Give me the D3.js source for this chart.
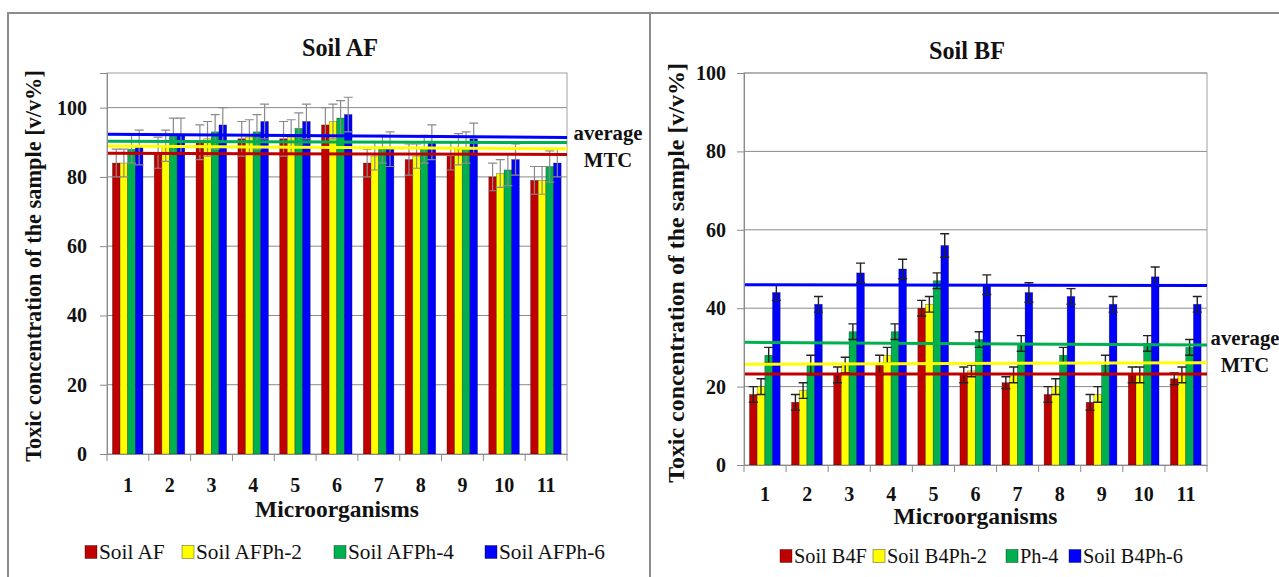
<!DOCTYPE html>
<html>
<head>
<meta charset="utf-8">
<script src="https://cdn.jsdelivr.net/npm/d3@7"></script>
<style>
  body { margin: 0; background: #fff; }
  text { font-family: "Liberation Serif", "DejaVu Serif", serif; fill: #111; }
</style>
</head>
<body>
<div id="chart"></div>
<script>
// data
var categories = ["1", "2", "3", "4", "5", "6", "7", "8", "9", "10", "11"];
var colors = ["#c00000", "#ffff00", "#00b050", "#0000ff"];
var yTicksAF = [0, 20, 40, 60, 80, 100];
var yTicksBF = [0, 20, 40, 60, 80, 100];

var afNames = ["Soil AF", "Soil AFPh-2", "Soil AFPh-4", "Soil AFPh-6"];
var afSoil = [84, 87, 90, 91, 91, 95, 84, 85, 86, 80, 79];
var afPh2 = [84, 89, 91, 91.5, 91.5, 96, 86, 86, 88, 81, 79];
var afPh4 = [88, 92, 93, 93, 94, 97, 88, 88, 88.5, 82, 83];
var afPh6 = [88.5, 92, 95, 96, 96, 98, 88, 90, 91, 85, 84];
var afSoilErr = [4, 4.5, 5, 5, 5, 5, 4, 4.5, 4, 4, 4];
var afPh2Err = [4, 4.5, 5, 5, 5, 5, 4, 3.5, 4.5, 4, 4];
var afPh4Err = [4, 5, 5, 5, 4.5, 5, 4, 4, 4.5, 4.5, 4.5];
var afPh6Err = [5, 5, 5, 5, 5, 5, 5, 5, 4.5, 4.5, 4];
var afAvgStart = [86.8, 88.9, 90.3, 92.3];
var afAvgEnd = [86.5, 88.1, 89.9, 91.4];

var bfNames = ["Soil B4F", "Soil B4Ph-2", "Ph-4", "Soil B4Ph-6"];
var bfSoil = [18, 16, 23, 25.5, 40, 23, 21, 18, 16, 23, 22];
var bfPh2 = [20, 19, 25.5, 28, 41, 24, 23, 20, 18, 23, 23];
var bfPh4 = [28, 25.5, 34, 34, 47, 32, 31, 28, 25.5, 31, 30];
var bfPh6 = [44, 41, 49, 50, 56, 46, 44, 43, 41, 48, 41];
var bfSoilErr = [2, 2, 2, 2.5, 2, 2, 1.5, 2, 2, 2, 1.5];
var bfPh2Err = [2, 2, 2, 2, 2, 1.5, 2, 2, 2, 2, 2];
var bfPh4Err = [2, 2.5, 2, 2, 2, 2, 2, 2, 2.5, 2, 2];
var bfPh6Err = [2, 2, 2.5, 2.5, 3, 2.5, 2.5, 2, 2, 2.5, 2];
var bfAvgStart = [23.2, 25.7, 31.3, 46];
var bfAvgEnd = [23.2, 26.1, 30.6, 45.8];

var FONT = '"Liberation Serif", "DejaVu Serif", serif';

var svg = d3.select('#chart').append('svg')
  .attr('width', 1279).attr('height', 577);

// outer frame
svg.append('path')
  .attr('d', 'M8,577V13H1279M650,13V577')
  .attr('fill', 'none').attr('stroke', '#8c8c8c').attr('stroke-width', 2);

// scale a font so that a text gets a given width
function fitSize(sample, width, bold) {
  var t = svg.append('text').attr('font-size', 20).attr('font-family', FONT)
    .attr('font-weight', bold ? 'bold' : 'normal').text(sample);
  var w = t.node().getComputedTextLength();
  t.remove();
  return 20 * width / w;
}

function drawChart(cfg) {
  var g = svg.append('g');
  var x = d3.scaleBand().domain(categories).range([cfg.x0, cfg.x1]);
  var bw = x.bandwidth();
  var xs = d3.scaleBand().domain([0, 1, 2, 3]).range([bw * 0.13, bw * 0.86]);
  var y = d3.scaleLinear().domain([0, cfg.max]).range([cfg.y0, cfg.y1]);

  var tickSize = fitSize('100', 30, true);
  var legSize = fitSize(cfg.names[3], cfg.legendW, false);

  // grid
  g.selectAll('.grid').data(cfg.ticks.filter(function (t) { return t > 0; }))
    .enter().append('line')
    .attr('x1', cfg.x0).attr('x2', cfg.x1)
    .attr('y1', function (d) { return y(d); }).attr('y2', function (d) { return y(d); })
    .attr('stroke', '#8a8a8a').attr('stroke-width', 1);
  g.append('rect')
    .attr('x', cfg.x0).attr('y', cfg.y1)
    .attr('width', cfg.x1 - cfg.x0).attr('height', cfg.y0 - cfg.y1)
    .attr('fill', 'none').attr('stroke', '#a0a0a0');

  // bars
  cfg.series.forEach(function (vals, s) {
    g.selectAll('.b' + s).data(vals).enter().append('rect')
      .attr('x', function (d, i) { return x(categories[i]) + xs(s); })
      .attr('width', xs.bandwidth())
      .attr('y', function (d) { return y(d); })
      .attr('height', function (d) { return cfg.y0 - y(d); })
      .attr('fill', colors[s])
      .attr('stroke', 'rgba(0,0,0,0.45)').attr('stroke-width', 0.6);
  });

  // error bars
  cfg.series.forEach(function (vals, s) {
    var errs = cfg.errors[s];
    vals.forEach(function (v, i) {
      var cx = x(categories[i]) + xs(s) + xs.bandwidth() / 2;
      var top = y(v + errs[i]), bot = y(v - errs[i]);
      g.append('path')
        .attr('d', 'M' + cx + ',' + top + 'V' + bot +
          'M' + (cx - 4.5) + ',' + top + 'H' + (cx + 4.5) +
          'M' + (cx - 4.5) + ',' + bot + 'H' + (cx + 4.5))
        .attr('fill', 'none').attr('stroke', cfg.errColor).attr('stroke-width', cfg.errWidth);
    });
  });

  // average lines
  cfg.avgStart.forEach(function (v, s) {
    g.append('line')
      .attr('x1', cfg.x0).attr('x2', cfg.x1)
      .attr('y1', y(v)).attr('y2', y(cfg.avgEnd[s]))
      .attr('stroke', colors[s]).attr('stroke-width', 3);
  });

  // y axis
  var yAxis = g.append('g').attr('transform', 'translate(' + cfg.x0 + ',0)')
    .call(d3.axisLeft(y).tickValues(cfg.ticks).tickSize(7).tickPadding(cfg.tickPad).tickFormat(d3.format('d')));
  yAxis.attr('font-family', FONT);
  yAxis.select('.domain').attr('stroke', '#8a8a8a');
  yAxis.selectAll('.tick line').attr('stroke', '#8a8a8a');
  yAxis.selectAll('text').attr('font-size', tickSize).attr('font-weight', 'bold').attr('fill', '#111');

  // x axis
  var xAxis = g.append('g').attr('transform', 'translate(0,' + cfg.y0 + ')')
    .call(d3.axisBottom(x).tickSize(0).tickPadding(cfg.xPad));
  xAxis.attr('font-family', FONT);
  xAxis.select('.domain').attr('stroke', '#8a8a8a');
  xAxis.selectAll('text').attr('font-size', tickSize).attr('font-weight', 'bold')
    .attr('dy', null).attr('dominant-baseline', 'central').attr('fill', '#111');
  var bounds = categories.map(function (c) { return x(c); }).concat([cfg.x1]);
  g.selectAll('.xt').data(bounds).enter().append('line')
    .attr('x1', function (d) { return d; }).attr('x2', function (d) { return d; })
    .attr('y1', cfg.y0).attr('y2', cfg.y0 + 7)
    .attr('stroke', '#8a8a8a');

  // titles
  g.append('text').attr('x', cfg.titleX).attr('y', cfg.titleY)
    .attr('text-anchor', 'middle').attr('dominant-baseline', 'central')
    .attr('font-size', fitSize(cfg.title, 76, true)).attr('font-weight', 'bold').text(cfg.title);
  g.append('text').attr('x', (cfg.x0 + cfg.x1) / 2).attr('y', cfg.xTitleY)
    .attr('text-anchor', 'middle').attr('dominant-baseline', 'central')
    .attr('font-size', fitSize('Microorganisms', 164, true)).attr('font-weight', 'bold').text('Microorganisms');
  var yTitle = 'Toxic concentration of the sample [v/v%]';
  g.append('text')
    .attr('transform', 'translate(' + cfg.yTitleX + ',' + cfg.yTitleY + ') rotate(-90)')
    .attr('text-anchor', 'middle').attr('dominant-baseline', 'central')
    .attr('font-size', fitSize(yTitle, cfg.yTitleW, true)).attr('font-weight', 'bold')
    .text(yTitle);

  // average MTC label
  var mtcSize = fitSize('average', 69, true);
  ['average', 'MTC'].forEach(function (t, k) {
    g.append('text').attr('x', cfg.mtcX).attr('y', cfg.mtcY + k * 27)
      .attr('text-anchor', 'middle').attr('dominant-baseline', 'central')
      .attr('font-size', mtcSize).attr('font-weight', 'bold').text(t);
  });

  // legend
  cfg.names.forEach(function (n, s) {
    var lx = cfg.legendX[s];
    g.append('rect').attr('x', lx).attr('y', cfg.legendY - 6.5)
      .attr('width', 12).attr('height', 13)
      .attr('fill', colors[s]).attr('stroke', 'rgba(0,0,0,0.5)').attr('stroke-width', 0.7);
    g.append('text').attr('x', lx + 14).attr('y', cfg.legendY)
      .attr('dominant-baseline', 'central').attr('font-size', legSize).text(n);
  });
}

drawChart({
  title: 'Soil AF', titleX: 340, titleY: 47,
  x0: 107, x1: 567, y0: 454, y1: 73, max: 110, ticks: yTicksAF,
  tickPad: 13, xPad: 31, xTitleY: 509,
  yTitleX: 33, yTitleY: 266, yTitleW: 392,
  series: [afSoil, afPh2, afPh4, afPh6],
  errors: [afSoilErr, afPh2Err, afPh4Err, afPh6Err],
  errColor: '#8a8a8a', errWidth: 1.2,
  avgStart: afAvgStart, avgEnd: afAvgEnd,
  mtcX: 608, mtcY: 133,
  names: afNames, legendX: [85, 182, 334, 485], legendY: 552, legendW: 106
});

drawChart({
  title: 'Soil BF', titleX: 967, titleY: 50,
  x0: 744, x1: 1207, y0: 465, y1: 73, max: 100, ticks: yTicksBF,
  tickPad: 11, xPad: 29, xTitleY: 516,
  yTitleX: 676, yTitleY: 273, yTitleW: 420,
  series: [bfSoil, bfPh2, bfPh4, bfPh6],
  errors: [bfSoilErr, bfPh2Err, bfPh4Err, bfPh6Err],
  errColor: '#222', errWidth: 1.4,
  avgStart: bfAvgStart, avgEnd: bfAvgEnd,
  mtcX: 1245, mtcY: 338,
  names: bfNames, legendX: [780, 873, 1006, 1069], legendY: 556, legendW: 100
});
</script>
</body>
</html>
